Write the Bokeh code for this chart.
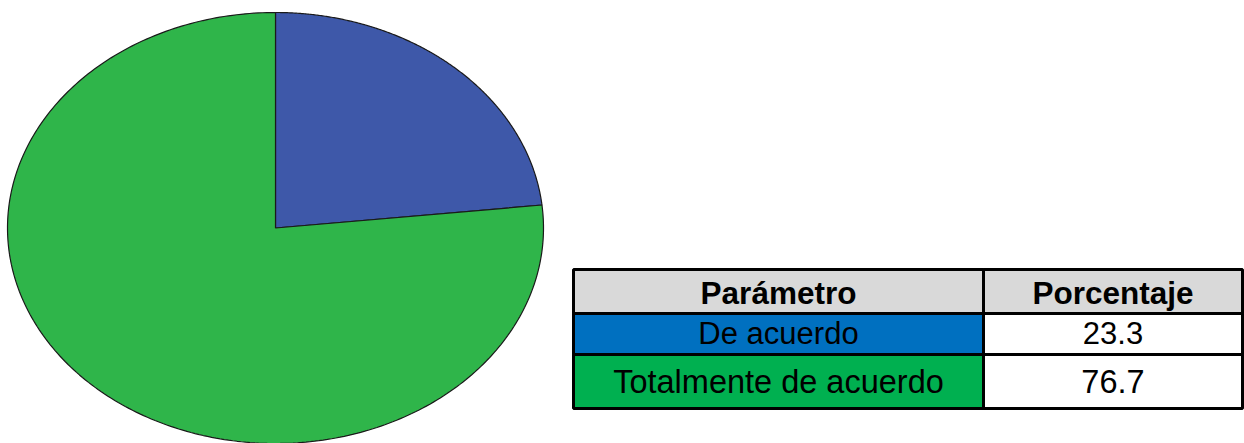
import numpy as np
from bokeh.plotting import figure
from bokeh.models import Range1d
from bokeh.core.properties import value
from bokeh.embed import file_html
from bokeh.resources import INLINE

# ---- data ----
categories = ["De acuerdo", "Totalmente de acuerdo"]
percentages = [23.3, 76.7]
header_labels = ["Parámetro", "Porcentaje"]
slice_colors = ["#3E58A9", "#2FB54A"]
cell_colors = ["#0070C0", "#00B050"]

W, H = 1244, 443
p = figure(width=W, height=H, output_backend="svg", toolbar_location=None,
           x_range=Range1d(0, W), y_range=Range1d(0, H),
           min_border=0, min_border_left=0, min_border_right=0,
           min_border_top=0, min_border_bottom=0)
p.axis.visible = False
p.grid.visible = False
p.outline_line_color = None
p.background_fill_color = "white"
p.border_fill_color = "white"

# ---- elliptical pie (percentages -> angles, clockwise from 12 o'clock) ----
cx, cy, rx, ry = 275.0, 215.5, 268.0, 215.5
start = 90.0
xs, ys = [], []
for pct in percentages:
    sweep = pct / 100.0 * 360.0
    t = np.radians(np.linspace(start, start - sweep, 300))
    xs.append([cx] + list(cx + rx * np.cos(t)) + [cx])
    ys.append([cy] + list(cy + ry * np.sin(t)) + [cy])
    start -= sweep
p.patches(xs, ys, fill_color=slice_colors, line_color="#1a1a1a", line_width=1.2)

# ---- table ----
x0, x1, x2 = 573.0, 983.0, 1242.0
row_edges = [174.0, 130.0, 89.0, 35.0]  # top of header, then row bottoms
text_y = [150.5, 110.5, 62.0]

p.quad(left=[x0, x1], right=[x1, x2], top=[row_edges[0]] * 2, bottom=[row_edges[1]] * 2,
       fill_color="#D9D9D9", line_color="black", line_width=3)
lefts, rights, tops, bottoms, fills = [], [], [], [], []
for i, c in enumerate(categories):
    lefts += [x0, x1]
    rights += [x1, x2]
    tops += [row_edges[i + 1]] * 2
    bottoms += [row_edges[i + 2]] * 2
    fills += [cell_colors[i], "white"]
p.quad(left=lefts, right=rights, top=tops, bottom=bottoms,
       fill_color=fills, line_color="black", line_width=3)

c1 = (x0 + x1) / 2
c2 = (x1 + x2) / 2
p.text(x=[c1, c2], y=[text_y[0]] * 2, text=header_labels,
       text_font=value("Liberation Sans"), text_font_style="bold",
       text_font_size="31.5px", text_align="center", text_baseline="middle",
       text_color="black")

tx, ty, tt, ts = [], [], [], []
body_sizes = ["31px", "32.5px"]
for i, c in enumerate(categories):
    p.text(x=[c1, c2], y=[text_y[i + 1]] * 2, text=[c, f"{percentages[i]:.1f}"],
           text_font=value("Liberation Sans"), text_font_size=body_sizes[i],
           text_align="center", text_baseline="middle", text_color="black")

open("out.html", "w").write(file_html(p, INLINE))
